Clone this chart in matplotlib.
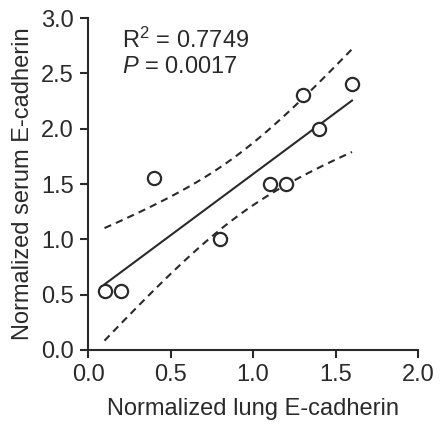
import numpy as np
import matplotlib
matplotlib.use("Agg")
import matplotlib.pyplot as plt

lung = [0.1, 0.2, 0.4, 0.8, 1.1, 1.2, 1.3, 1.4, 1.6]
serum = [0.53, 0.53, 1.55, 1.0, 1.5, 1.5, 2.3, 2.0, 2.4]
xticks = [0.0, 0.5, 1.0, 1.5, 2.0]
yticks = [0.0, 0.5, 1.0, 1.5, 2.0, 2.5, 3.0]
r2_text = "R$^2$ = 0.7749"
p_text = "$\\it{P}$ = 0.0017"

plt.rcParams['font.family'] = ['Liberation Sans', 'DejaVu Sans']
plt.rcParams['mathtext.fontset'] = 'custom'
plt.rcParams['mathtext.rm'] = 'Liberation Sans'
plt.rcParams['mathtext.it'] = 'Liberation Sans:italic'

ink = '#2a2a2a'
fig = plt.figure(figsize=(4.4, 4.32), dpi=100)
ax = fig.add_axes([88/440, (432-350)/432, 330/440, 332/432])

x = np.array(lung)
y = np.array(serum)
n = len(x)
slope, intercept = np.polyfit(x, y, 1)
xs = np.linspace(x.min(), x.max(), 100)
fit = slope * xs + intercept
resid = y - (slope * x + intercept)
s = np.sqrt(np.sum(resid**2) / (n - 2))
sxx = np.sum((x - x.mean())**2)
t = 2.365
half = t * s * np.sqrt(1/n + (xs - x.mean())**2 / sxx)

ax.plot(xs, fit, color=ink, lw=1.5)
ax.plot(xs, fit + half, color=ink, lw=1.5, ls=(0, (3.5, 2.5)))
ax.plot(xs, fit - half, color=ink, lw=1.5, ls=(0, (3.5, 2.5)))
ax.plot(x, y, 'o', mfc='white', mec=ink, mew=1.6, ms=9.5, ls='none', zorder=5)

ax.set_xlim(0, 2.0)
ax.set_ylim(0, 3.0)
ax.set_xticks(xticks)
ax.set_yticks(yticks)
ax.set_xticklabels([f"{v:.1f}" for v in xticks])
ax.set_yticklabels([f"{v:.1f}" for v in yticks])
for sp in ['top', 'right']:
    ax.spines[sp].set_visible(False)
for sp in ['left', 'bottom']:
    ax.spines[sp].set_linewidth(1.5)
    ax.spines[sp].set_color(ink)
ax.tick_params(direction='out', length=6, width=1.5, color=ink,
               labelsize=17, labelcolor=ink, pad=4)
ax.set_xlabel("Normalized lung E-cadherin", fontsize=17, color=ink, labelpad=9)
ax.set_ylabel("Normalized serum E-cadherin", fontsize=17, color=ink, labelpad=5)

ax.text(0.205, 2.80, r2_text, fontsize=17, color=ink, va='center')
ax.text(0.205, 2.56, p_text, fontsize=17, color=ink, va='center')

fig.savefig("out.png", dpi=100)
